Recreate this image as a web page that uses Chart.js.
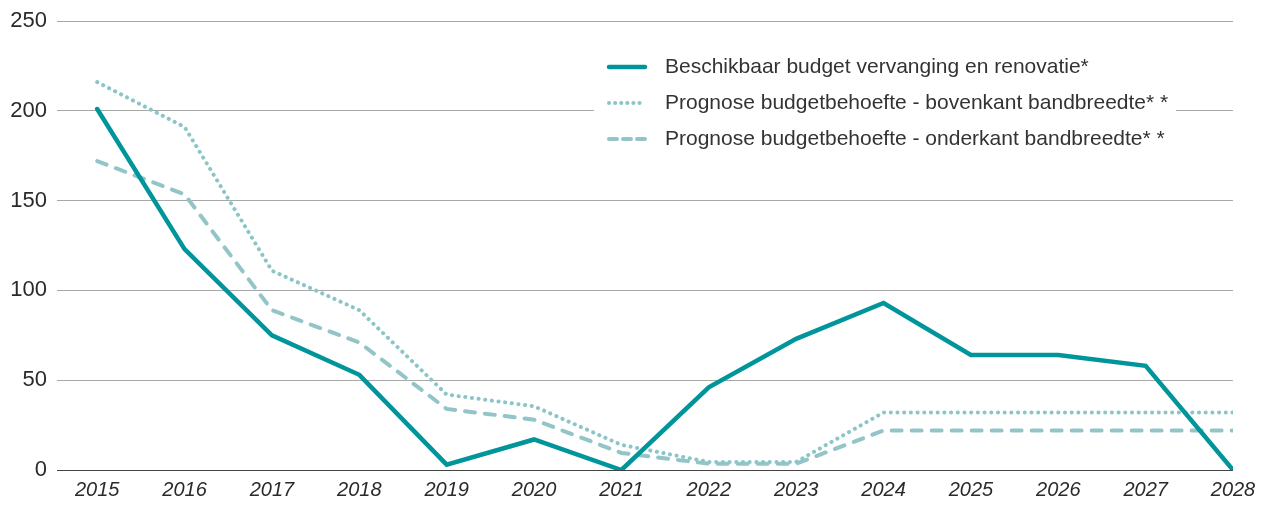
<!DOCTYPE html>
<html>
<head>
<meta charset="utf-8">
<script src="https://cdn.jsdelivr.net/npm/chart.js@4"></script>
<style>
  html, body { margin: 0; padding: 0; background: #fff; }
  #wrap { width: 1277px; height: 505px; }
</style>
</head>
<body>
<div id="wrap"><canvas id="budget"></canvas></div>
<script>
var years = [2015, 2016, 2017, 2018, 2019, 2020, 2021, 2022, 2023, 2024, 2025, 2026, 2027, 2028];
var beschikbaar = [201, 123, 75, 53, 3, 17, 0, 46, 73, 93, 64, 64, 58, 0];
var bovenkant = [216, 191, 111, 89, 42, 35.5, 14, 4.5, 4.5, 32, 32, 32, 32, 32];
var onderkant = [172, 153.5, 89, 71, 34, 28, 9.5, 3.5, 3.5, 22, 22, 22, 22, 22];
var yTicks = [0, 50, 100, 150, 200, 250];
var labels = [
  'Beschikbaar budget vervanging en renovatie*',
  'Prognose budgetbehoefte - bovenkant bandbreedte* *',
  'Prognose budgetbehoefte - onderkant bandbreedte* *'
];

var fontFam = "'Liberation Sans', Arial, sans-serif";

function pts(arr) {
  return arr.map(function(v, i){ return {x: years[i], y: v}; });
}

// legend drawn inside the plot, white box over the grid
var innerLegend = {
  id: 'innerLegend',
  afterDatasetsDraw: function(chart) {
    var ctx = chart.ctx;
    ctx.save();
    ctx.fillStyle = '#fff';
    ctx.fillRect(594, 44, 582, 112);
    var ys = [67, 103, 139];
    chart.data.datasets.forEach(function(ds, i){
      ctx.beginPath();
      ctx.strokeStyle = ds.borderColor;
      ctx.lineWidth = ds.borderWidth;
      ctx.lineCap = ds.borderCapStyle || 'butt';
      ctx.setLineDash(ds.legendDash || []);
      ctx.moveTo(609, ys[i]);
      ctx.lineTo(645, ys[i]);
      ctx.stroke();
      ctx.setLineDash([]);
      ctx.fillStyle = '#333';
      ctx.font = '21px ' + fontFam;
      ctx.textBaseline = 'middle';
      ctx.fillText(ds.label, 665, ys[i]);
    });
    ctx.restore();
  }
};

var ctx = document.getElementById('budget');
var chart = new Chart(ctx, {
  type: 'line',
  data: {
    datasets: [
      {
        label: labels[0],
        data: pts(beschikbaar),
        borderColor: '#00959a',
        borderWidth: 4.5,
        borderCapStyle: 'round',
        pointRadius: 0,
        tension: 0,
        fill: false
      },
      {
        label: labels[1],
        data: pts(bovenkant),
        borderColor: '#8cc5c7',
        borderWidth: 4,
        borderCapStyle: 'round',
        borderDash: [0.1, 6.6],
        legendDash: [0.1, 6],
        pointRadius: 0,
        tension: 0,
        fill: false
      },
      {
        label: labels[2],
        data: pts(onderkant),
        borderColor: '#93c5c8',
        borderWidth: 4,
        borderCapStyle: 'round',
        borderDash: [10, 10],
        legendDash: [8, 6],
        pointRadius: 0,
        tension: 0,
        fill: false
      }
    ]
  },
  options: {
    responsive: true,
    maintainAspectRatio: false,
    animation: false,
    layout: { padding: { top: 10, right: 44, bottom: 0, left: 0 } },
    plugins: {
      legend: { display: false },
      tooltip: { enabled: false }
    },
    scales: {
      x: {
        type: 'linear',
        min: 2014.54,
        max: 2028,
        afterBuildTicks: function(axis) {
          axis.ticks = years.map(function(y){ return {value: y}; });
        },
        afterFit: function(axis) { axis.height = 35; },
        grid: { display: false, drawTicks: false },
        border: { display: false },
        ticks: {
          color: '#2a2a2a',
          padding: 8,
          maxRotation: 0,
          autoSkip: false,
          font: { family: fontFam, size: 20, style: 'italic' },
          callback: function(v){ return String(v); }
        }
      },
      y: {
        min: 0,
        max: 250,
        afterBuildTicks: function(axis) {
          axis.ticks = yTicks.map(function(v){ return {value: v}; });
        },
        afterFit: function(axis) { axis.width = 57; },
        border: { display: false },
        grid: {
          drawTicks: false,
          lineWidth: 1,
          color: function(c){ return c.tick && c.tick.value === 0 ? '#444' : '#a8a8a8'; }
        },
        ticks: {
          color: '#2a2a2a',
          padding: 10,
          font: { family: fontFam, size: 22, lineHeight: 1 }
        }
      }
    }
  },
  plugins: [innerLegend]
});
</script>
</body>
</html>
